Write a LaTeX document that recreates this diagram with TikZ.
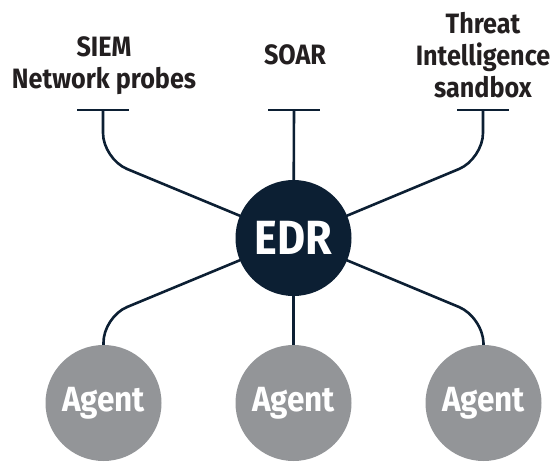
\documentclass[tikz,border=0pt]{standalone}
\usepackage{fontspec}
\usetikzlibrary{backgrounds}
\setmainfont{Fira Sans}
\newfontfamily\lblfont[FakeStretch=0.9]{Fira Sans}
\definecolor{navy}{HTML}{0C1F33}
\definecolor{agentgrey}{HTML}{939598}
\definecolor{txtdark}{HTML}{231F20}
\begin{document}
\begin{tikzpicture}[x=1pt,y=-1pt,
  conn/.style={draw=navy,line width=2.6pt,rounded corners=26pt},
  barline/.style={draw=navy,line width=2.6pt},
  label/.style={anchor=base,align=center,text=txtdark,inner sep=0pt,
    font=\lblfont\bfseries\fontsize{28}{32}\selectfont},
  edr/.style={circle,fill=navy,minimum size=116pt,inner sep=0pt,text=white,
    font=\lblfont\bfseries\fontsize{48}{48}\selectfont},
  agent/.style={circle,fill=agentgrey,minimum size=116pt,inner sep=0pt,text=white,
    font=\lblfont\bfseries\fontsize{35}{35}\selectfont}]
\useasboundingbox (0,0) rectangle (552,461);
\clip (0,0) rectangle (552,461);
% labels
\node[label] (siem) at (104,88) {SIEM\\Network probes};
\node[label] (soar) at (295,64) {SOAR};
\node[label] (ti) at (483,97) {Threat\\Intelligence\\sandbox};
% bar ends
\coordinate (b1) at (103,110);
\coordinate (b2) at (294,110);
\coordinate (b3) at (483,110);
\draw[barline] (77,110) -- (129,110);
\draw[barline] (268,110) -- (320,110);
\draw[barline] (457,110) -- (509,110);
% nodes
\node[edr] (edr) at (293.5,238) {EDR};
\node[agent] (a1) at (103.5,403) {Agent};
\node[agent] (a2) at (293.5,403) {Agent};
\node[agent] (a3) at (483.5,403) {Agent};
% connectors
\begin{scope}[on background layer]
\path[conn] (b1) -- (103,159) -- (edr.center);
\path[conn] (b3) -- (483,159) -- (edr.center);
\path[conn] (b2) -- (edr.center);
\path[conn] (a1.north) -- (103,317) -- (edr.center);
\path[conn] (a3.north) -- (483,317) -- (edr.center);
\path[conn] (a2.north) -- (edr.center);
\end{scope}
\end{tikzpicture}
\end{document}
